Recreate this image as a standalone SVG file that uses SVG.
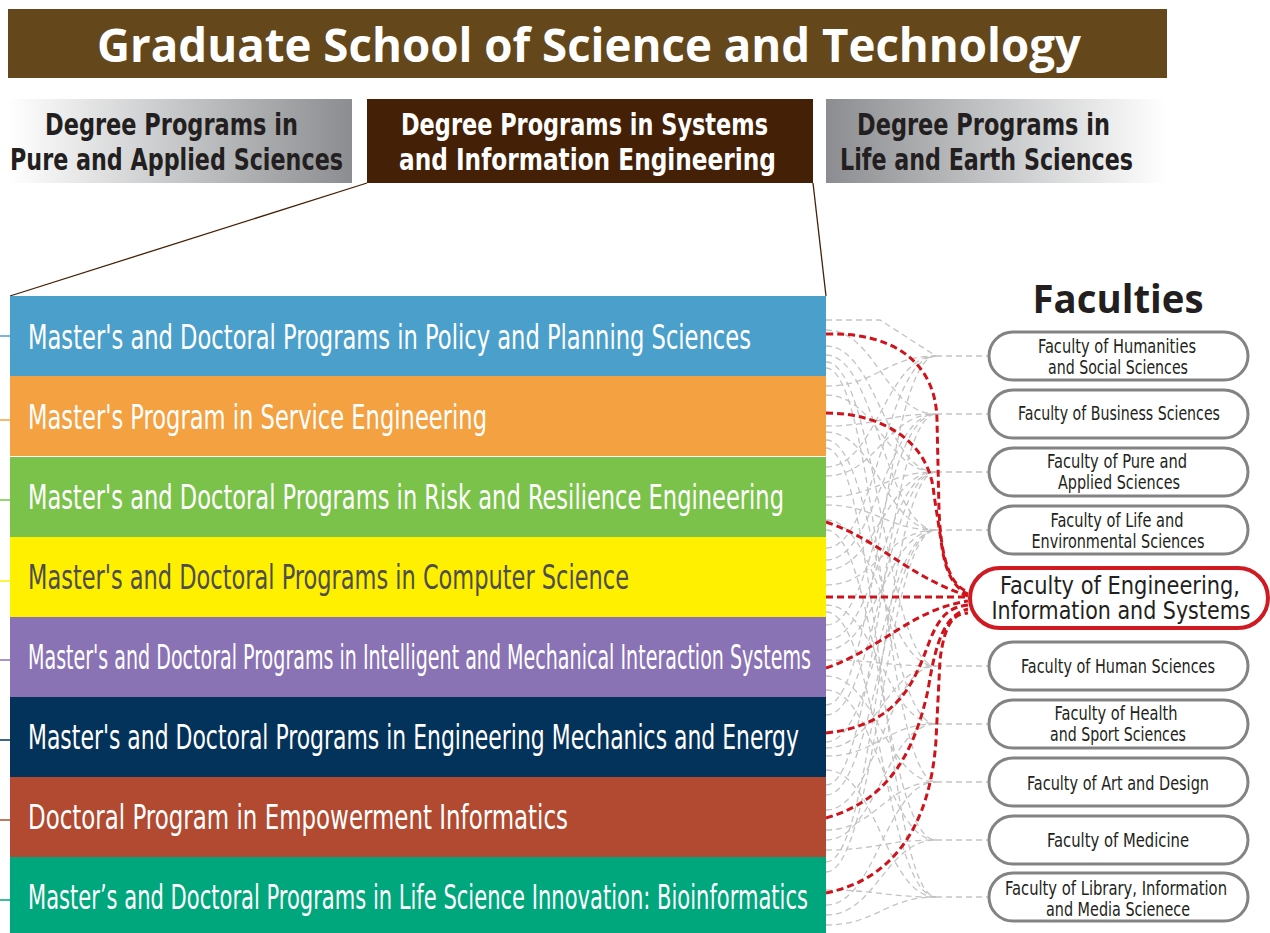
<svg xmlns="http://www.w3.org/2000/svg" width="1270" height="933" viewBox="0 0 1270 933">
<defs>
<linearGradient id="gL" x1="0" y1="0" x2="1" y2="0"><stop offset="0" stop-color="#ffffff"/><stop offset="1" stop-color="#8b8d90"/></linearGradient>
<linearGradient id="gR" x1="0" y1="0" x2="1" y2="0"><stop offset="0" stop-color="#8b8d90"/><stop offset="1" stop-color="#ffffff"/></linearGradient>
<style>
.ttl{font-family:"Open Sans","Liberation Sans",sans-serif;font-weight:bold;font-size:46px;fill:#fff}
.tab{font-family:"Liberation Sans Narrow","DejaVu Sans Condensed","Liberation Sans",sans-serif;font-weight:bold;font-size:30px;fill:#231f20}
.tabw{fill:#fff}
.prog{font-family:"Liberation Sans Narrow","DejaVu Sans Condensed","Liberation Sans",sans-serif;font-size:34px;fill:#fff}
.dark{fill:#4d4d4f}
.fac{font-family:"Liberation Sans Narrow","DejaVu Sans Condensed","Liberation Sans",sans-serif;font-size:19px;fill:#231f20;text-anchor:middle}
.facb{font-size:25px}
.pill{fill:#fff;stroke:#838383;stroke-width:3}
.pillr{fill:#fff;stroke:#cf1a22;stroke-width:4}
.gray{fill:none;stroke:#c3c3c3;stroke-width:1.3;stroke-dasharray:6 4}
.red{fill:none;stroke:#d0121b;stroke-width:3;stroke-dasharray:7 4}
.tick{stroke-width:1.5}
</style>
</defs>
<rect width="1270" height="933" fill="#fff"/>

<g id="title">
<rect x="8" y="9" width="1159" height="69" fill="#65471c"/>
<text class="ttl" x="97" y="62" textLength="984" lengthAdjust="spacingAndGlyphs">Graduate School of Science and Technology</text>
</g>

<g id="tab-pure">
<rect x="8" y="99" width="344" height="84" fill="url(#gL)"/>
<text class="tab" x="45" y="135" textLength="253" lengthAdjust="spacingAndGlyphs">Degree Programs in</text>
<text class="tab" x="10" y="170" textLength="333" lengthAdjust="spacingAndGlyphs">Pure and Applied Sciences</text>
</g>
<g id="tab-systems">
<rect x="367" y="99" width="446" height="84" fill="#432006"/>
<text class="tab tabw" x="401" y="135" textLength="367" lengthAdjust="spacingAndGlyphs">Degree Programs in Systems</text>
<text class="tab tabw" x="399" y="170" textLength="377" lengthAdjust="spacingAndGlyphs">and Information Engineering</text>
</g>
<g id="tab-life">
<rect x="826" y="99" width="340" height="84" fill="url(#gR)"/>
<text class="tab" x="857" y="135" textLength="253" lengthAdjust="spacingAndGlyphs">Degree Programs in</text>
<text class="tab" x="840" y="170" textLength="293" lengthAdjust="spacingAndGlyphs">Life and Earth Sciences</text>
</g>

<g id="expand-lines" stroke="#432006" stroke-width="1.3">
<line x1="367" y1="183" x2="10" y2="296"/>
<line x1="813" y1="183" x2="826" y2="296"/>
</g>

<g id="connectors">
<g id="gray-web">
<path class="gray" d="M826,320 H880 L936,356"/>
<path class="gray" d="M826,330 C876,330 886,414 936,414"/>
<path class="gray" d="M826,346 C876,346 886,472 936,472"/>
<path class="gray" d="M826,355 C876,355 886,530 936,530"/>
<path class="gray" d="M826,362 C876,362 886,666 936,666"/>
<path class="gray" d="M826,368 C876,368 886,782 936,782"/>
<path class="gray" d="M826,386 C876,386 886,356 936,356"/>
<path class="gray" d="M826,395 C876,395 886,472 936,472"/>
<path class="gray" d="M826,426 C876,426 886,414 936,414"/>
<path class="gray" d="M826,432 C876,432 886,530 936,530"/>
<path class="gray" d="M826,440 C876,440 886,724 936,724"/>
<path class="gray" d="M826,448 C876,448 886,897 936,897"/>
<path class="gray" d="M826,467 C876,467 886,356 936,356"/>
<path class="gray" d="M826,476 C876,476 886,414 936,414"/>
<path class="gray" d="M826,497 C876,497 886,472 936,472"/>
<path class="gray" d="M826,505 C876,505 886,530 936,530"/>
<path class="gray" d="M826,520 C876,520 886,666 936,666"/>
<path class="gray" d="M826,530 C876,530 886,840 936,840"/>
<path class="gray" d="M826,548 C876,548 886,356 936,356"/>
<path class="gray" d="M826,560 C876,560 886,414 936,414"/>
<path class="gray" d="M826,570 C876,570 886,472 936,472"/>
<path class="gray" d="M826,585 C876,585 886,530 936,530"/>
<path class="gray" d="M826,605 C876,605 886,724 936,724"/>
<path class="gray" d="M826,612 C876,612 886,897 936,897"/>
<path class="gray" d="M826,625 C876,625 886,414 936,414"/>
<path class="gray" d="M826,640 C876,640 886,472 936,472"/>
<path class="gray" d="M826,650 C876,650 886,530 936,530"/>
<path class="gray" d="M826,660 C876,660 886,666 936,666"/>
<path class="gray" d="M826,676 C876,676 886,782 936,782"/>
<path class="gray" d="M826,690 C876,690 886,840 936,840"/>
<path class="gray" d="M826,705 C876,705 886,356 936,356"/>
<path class="gray" d="M826,715 C876,715 886,472 936,472"/>
<path class="gray" d="M826,742 C876,742 886,530 936,530"/>
<path class="gray" d="M826,748 C876,748 886,666 936,666"/>
<path class="gray" d="M826,756 C876,756 886,724 936,724"/>
<path class="gray" d="M826,770 C876,770 886,897 936,897"/>
<path class="gray" d="M826,785 C876,785 886,414 936,414"/>
<path class="gray" d="M826,795 C876,795 886,530 936,530"/>
<path class="gray" d="M826,810 C876,810 886,666 936,666"/>
<path class="gray" d="M826,830 C876,830 886,782 936,782"/>
<path class="gray" d="M826,840 C876,840 886,724 936,724"/>
<path class="gray" d="M826,850 C876,850 886,840 936,840"/>
<path class="gray" d="M826,862 C876,862 886,472 936,472"/>
<path class="gray" d="M826,872 C876,872 886,530 936,530"/>
<path class="gray" d="M826,890 C876,890 886,897 936,897"/>
<path class="gray" d="M826,905 C876,905 886,782 936,782"/>
<path class="gray" d="M826,915 C876,915 886,840 936,840"/>
<path class="gray" d="M826,925 C876,925 886,897 936,897"/>
<path class="gray" d="M936,356 H989 M936,414 H989 M936,472 H989 M936,530 H989 M936,666 H989 M936,724 H989 M936,782 H989 M936,840 H989 M936,897 H989"/>
</g>
<g id="red-links">
<path class="red" d="M826,334 C890,332 936,360 937,420 L939,510 C941,560 950,585 968,592"/>
<path class="red" d="M826,413 C880,413 930,440 934,495 L941,540 C945,575 955,588 968,594"/>
<path class="red" d="M826,522 C880,540 905,575 968,596"/>
<path class="red" d="M826,597 H968"/>
<path class="red" d="M826,668 C880,650 910,610 968,601"/>
<path class="red" d="M826,733 C900,725 915,680 930,640 C940,615 950,607 968,605"/>
<path class="red" d="M826,818 C890,800 915,750 928,690 C936,640 945,615 968,609"/>
<path class="red" d="M826,893 C890,880 930,830 936,740 L940,660 C945,620 955,614 968,613"/>
</g>
</g>

<g id="prog-policy">
<rect x="10" y="296" width="816" height="80" fill="#4b9fcb"/>
<line class="tick" x1="0" y1="336" x2="10" y2="336" stroke="#4b9fcb"/>
<text class="prog" x="28" y="349" textLength="723" lengthAdjust="spacingAndGlyphs">Master's and Doctoral Programs in Policy and Planning Sciences</text>
</g>
<g id="prog-service">
<rect x="10" y="376" width="816" height="80" fill="#f4a141"/>
<line class="tick" x1="0" y1="420" x2="10" y2="420" stroke="#f4a141"/>
<text class="prog" x="28" y="429" textLength="459" lengthAdjust="spacingAndGlyphs">Master's Program in Service Engineering</text>
</g>
<g id="prog-risk">
<rect x="10" y="457" width="816" height="80" fill="#7bc24b"/>
<line class="tick" x1="0" y1="500" x2="10" y2="500" stroke="#7bc24b"/>
<text class="prog" x="28" y="509" textLength="756" lengthAdjust="spacingAndGlyphs">Master's and Doctoral Programs in Risk and Resilience Engineering</text>
</g>
<g id="prog-cs">
<rect x="10" y="537" width="816" height="80" fill="#fff000"/>
<line class="tick" x1="0" y1="581" x2="10" y2="581" stroke="#fff000"/>
<text class="prog dark" x="28" y="589" textLength="601" lengthAdjust="spacingAndGlyphs">Master's and Doctoral Programs in Computer Science</text>
</g>
<g id="prog-intelligent">
<rect x="10" y="617" width="816" height="80" fill="#8a73b5"/>
<line class="tick" x1="0" y1="660" x2="10" y2="660" stroke="#8a73b5"/>
<text class="prog" x="28" y="669" textLength="783" lengthAdjust="spacingAndGlyphs">Master's and Doctoral Programs in Intelligent and Mechanical Interaction Systems</text>
</g>
<g id="prog-mechanics">
<rect x="10" y="697" width="816" height="80" fill="#03335a"/>
<line class="tick" x1="0" y1="740" x2="10" y2="740" stroke="#03335a"/>
<text class="prog" x="28" y="749" textLength="771" lengthAdjust="spacingAndGlyphs">Master's and Doctoral Programs in Engineering Mechanics and Energy</text>
</g>
<g id="prog-empowerment">
<rect x="10" y="777" width="816" height="80" fill="#b14a30"/>
<line class="tick" x1="0" y1="820" x2="10" y2="820" stroke="#b14a30"/>
<text class="prog" x="28" y="829" textLength="540" lengthAdjust="spacingAndGlyphs">Doctoral Program in Empowerment Informatics</text>
</g>
<g id="prog-lifescience">
<rect x="10" y="857" width="816" height="76" fill="#00a67c"/>
<line class="tick" x1="0" y1="900" x2="10" y2="900" stroke="#00a67c"/>
<text class="prog" x="28" y="909" textLength="780" lengthAdjust="spacingAndGlyphs">Master’s and Doctoral Programs in Life Science Innovation: Bioinformatics</text>
</g>

<g id="faculties-title">
<text x="1118" y="313" text-anchor="middle" font-family="Open Sans, Liberation Sans, sans-serif" font-weight="bold" font-size="40" fill="#231f20" textLength="171" lengthAdjust="spacingAndGlyphs">Faculties</text>
</g>

<g id="fac-humanities">
<rect class="pill" x="989" y="332" width="259" height="48" rx="24"/>
<text class="fac" x="1117" y="353" textLength="158" lengthAdjust="spacingAndGlyphs">Faculty of Humanities</text>
<text class="fac" x="1118" y="374" textLength="140" lengthAdjust="spacingAndGlyphs">and Social Sciences</text>
</g>
<g id="fac-business">
<rect class="pill" x="989" y="390" width="259" height="48" rx="24"/>
<text class="fac" x="1119" y="420" textLength="202" lengthAdjust="spacingAndGlyphs">Faculty of Business Sciences</text>
</g>
<g id="fac-pure">
<rect class="pill" x="989" y="448" width="259" height="48" rx="24"/>
<text class="fac" x="1117" y="468" textLength="140" lengthAdjust="spacingAndGlyphs">Faculty of Pure and</text>
<text class="fac" x="1119" y="489" textLength="122" lengthAdjust="spacingAndGlyphs">Applied Sciences</text>
</g>
<g id="fac-life">
<rect class="pill" x="989" y="506" width="259" height="48" rx="24"/>
<text class="fac" x="1117" y="527" textLength="133" lengthAdjust="spacingAndGlyphs">Faculty of Life and</text>
<text class="fac" x="1118" y="548" textLength="173" lengthAdjust="spacingAndGlyphs">Environmental Sciences</text>
</g>
<g id="fac-engineering">
<rect class="pillr" x="970" y="568" width="298" height="60" rx="30"/>
<text class="fac facb" x="1120" y="594" textLength="240" lengthAdjust="spacingAndGlyphs">Faculty of Engineering,</text>
<text class="fac facb" x="1121" y="619" textLength="259" lengthAdjust="spacingAndGlyphs">Information and Systems</text>
</g>
<g id="fac-human">
<rect class="pill" x="989" y="642" width="259" height="48" rx="24"/>
<text class="fac" x="1118" y="673" textLength="194" lengthAdjust="spacingAndGlyphs">Faculty of Human Sciences</text>
</g>
<g id="fac-health">
<rect class="pill" x="989" y="700" width="259" height="48" rx="24"/>
<text class="fac" x="1116" y="720" textLength="123" lengthAdjust="spacingAndGlyphs">Faculty of Health</text>
<text class="fac" x="1118" y="741" textLength="136" lengthAdjust="spacingAndGlyphs">and Sport Sciences</text>
</g>
<g id="fac-art">
<rect class="pill" x="989" y="758" width="259" height="48" rx="24"/>
<text class="fac" x="1118" y="790" textLength="182" lengthAdjust="spacingAndGlyphs">Faculty of Art and Design</text>
</g>
<g id="fac-medicine">
<rect class="pill" x="989" y="816" width="259" height="48" rx="24"/>
<text class="fac" x="1118" y="847" textLength="142" lengthAdjust="spacingAndGlyphs">Faculty of Medicine</text>
</g>
<g id="fac-library">
<rect class="pill" x="989" y="873" width="259" height="48" rx="24"/>
<text class="fac" x="1116" y="895" textLength="222" lengthAdjust="spacingAndGlyphs">Faculty of Library, Information</text>
<text class="fac" x="1118" y="916" textLength="144" lengthAdjust="spacingAndGlyphs">and Media Scienece</text>
</g>
</svg>
